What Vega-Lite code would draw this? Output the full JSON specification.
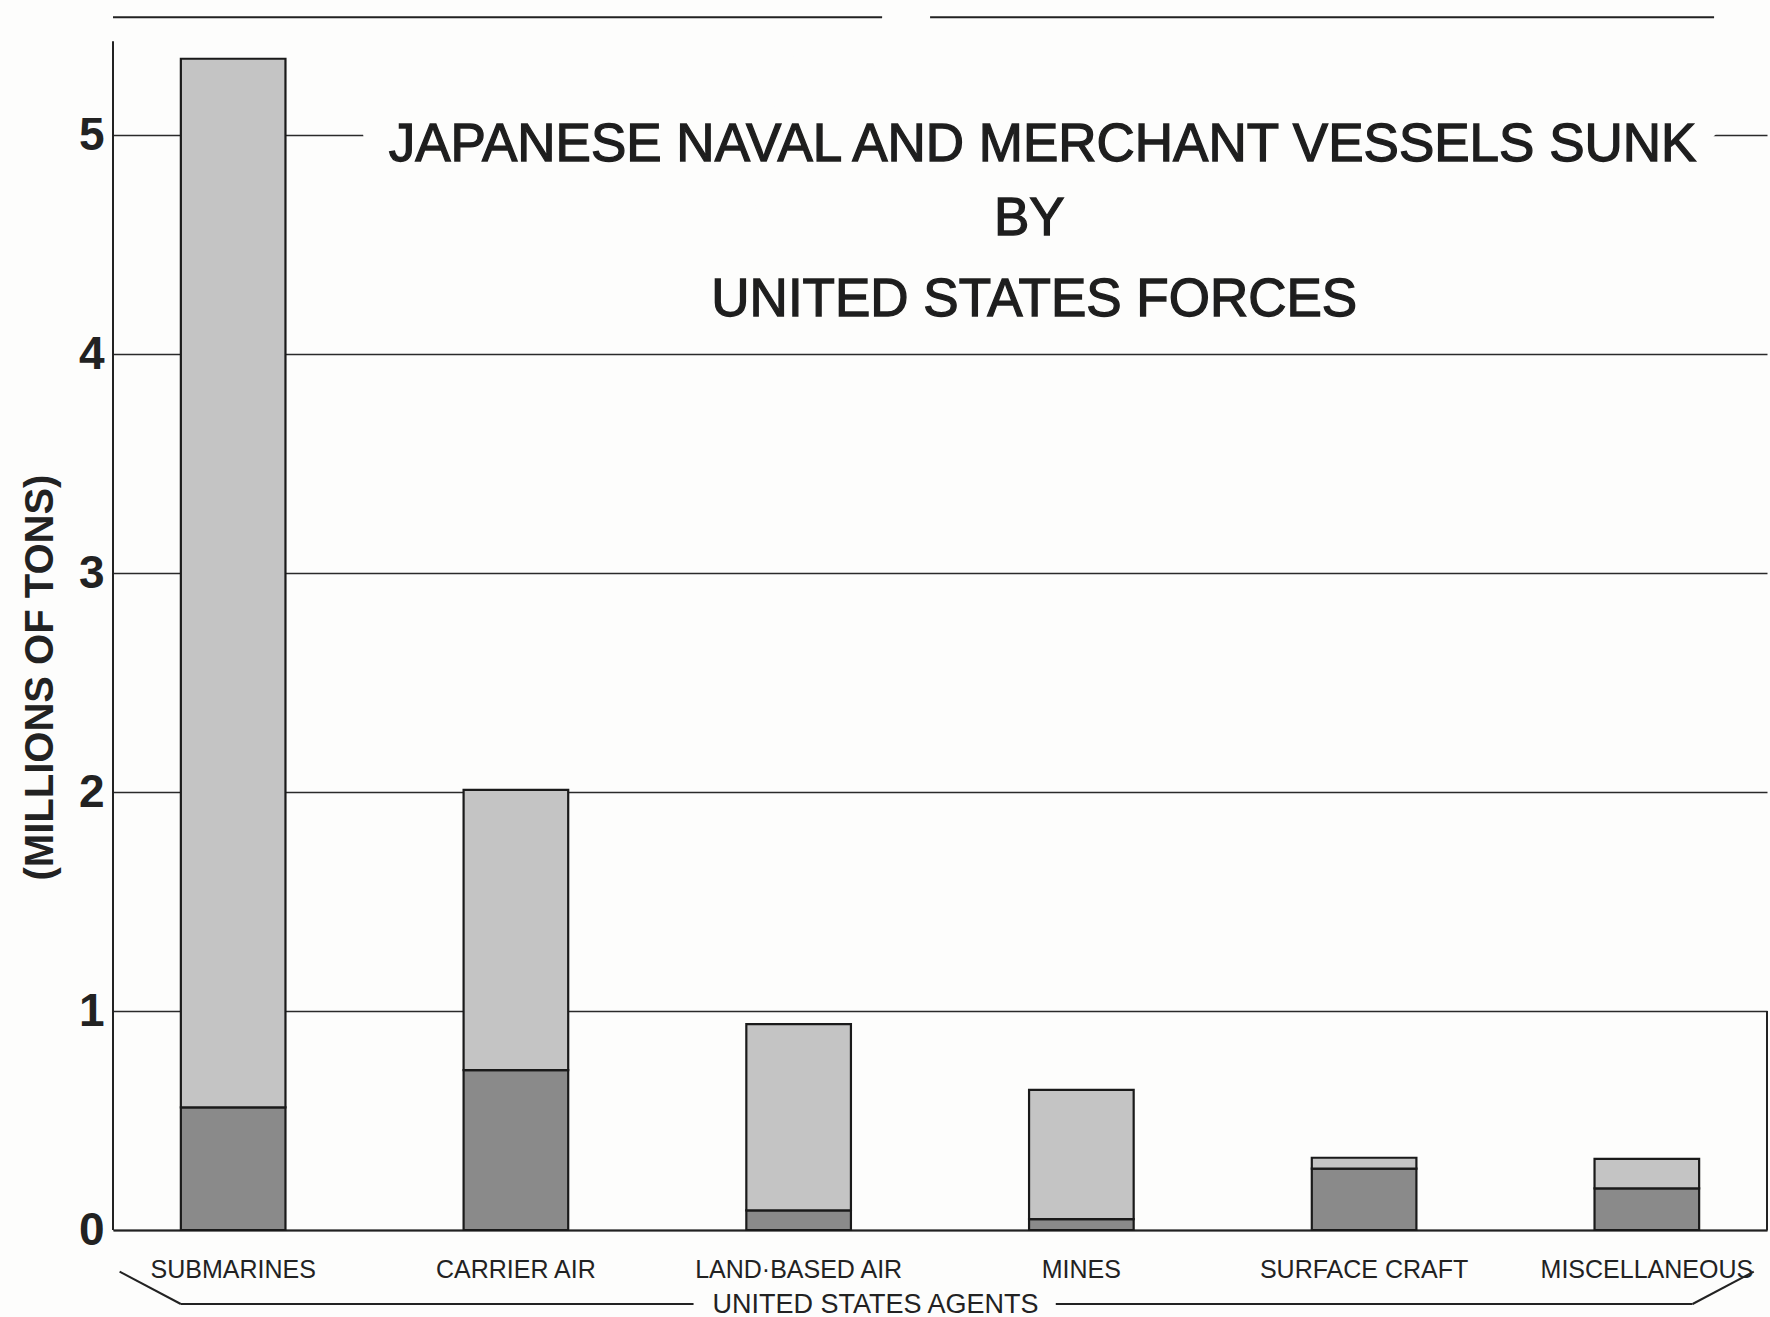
{
  "$schema": "https://vega.github.io/schema/vega-lite/v6.json",
  "width": 1654,
  "height": 1226,
  "autosize": {"type": "none"},
  "padding": {"left": 113, "top": 4, "right": 3, "bottom": 87},
  "background": "#fdfdfc",
  "config": {"view": {"stroke": null}, "font": "Liberation Sans"},
  "data": {
    "values": [
      {"agent": "SUBMARINES", "series": "Naval", "tons": 0.56},
      {"agent": "SUBMARINES", "series": "Merchant", "tons": 4.79},
      {"agent": "CARRIER AIR", "series": "Naval", "tons": 0.73},
      {"agent": "CARRIER AIR", "series": "Merchant", "tons": 1.28},
      {"agent": "LAND·BASED AIR", "series": "Naval", "tons": 0.09},
      {"agent": "LAND·BASED AIR", "series": "Merchant", "tons": 0.85},
      {"agent": "MINES", "series": "Naval", "tons": 0.05},
      {"agent": "MINES", "series": "Merchant", "tons": 0.59},
      {"agent": "SURFACE CRAFT", "series": "Naval", "tons": 0.28},
      {"agent": "SURFACE CRAFT", "series": "Merchant", "tons": 0.05},
      {"agent": "MISCELLANEOUS", "series": "Naval", "tons": 0.19},
      {"agent": "MISCELLANEOUS", "series": "Merchant", "tons": 0.135}
    ]
  },
  "layer": [
    {
      "mark": {"type": "bar", "stroke": "#1a1a1a", "strokeWidth": 2.2},
      "encoding": {
        "x": {
          "field": "agent", "type": "nominal", "sort": null,
          "scale": {"paddingInner": 0.63, "paddingOuter": 0.24},
          "axis": {
            "title": "UNITED STATES AGENTS", "labelAngle": 0, "labelFontSize": 25, "labelColor": "#222",
            "labelPadding": 27, "labelLimit": 0, "ticks": false, "domain": true, "domainColor": "#222", "domainWidth": 2.2,
            "titleFontSize": 27, "titleFontWeight": "normal", "titleColor": "#222",
            "titleX": 762, "titleY": 74, "titleBaseline": "middle", "titleAlign": "center"
          }
        },
        "y": {
          "field": "tons", "type": "quantitative", "stack": "zero",
          "scale": {"domain": [0, 5.6], "nice": false},
          "axis": {
            "values": [0, 1, 2, 3, 4, 5], "format": "d", "grid": true, "gridColor": "#2a2a2a", "gridWidth": 1.6,
            "domain": false, "ticks": false, "labelFontSize": 46, "labelFontWeight": "bold", "labelColor": "#222",
            "labelPadding": 9, "title": "(MILLIONS OF TONS)", "titleFontSize": 40, "titleFontWeight": "bold",
            "titleColor": "#222", "titleX": -73, "titleY": 673, "titleBaseline": "middle", "titleAlign": "center", "titleAngle": -90
          }
        },
        "color": {
          "field": "series", "type": "nominal",
          "scale": {"domain": ["Naval", "Merchant"], "range": ["#8a8a8a", "#c4c4c4"]},
          "legend": null
        },
        "order": {"field": "series", "sort": "descending"}
      }
    },
    {
      "data": {"values": [{}]},
      "mark": {"type": "rule", "stroke": "#222", "strokeWidth": 2},
      "encoding": {
        "x": {"datum": 0, "type": "quantitative", "scale": {"domain": [0, 1], "nice": false}, "axis": null},
        "x2": {"datum": 0.465},
        "y": {"datum": 5.54}
      }
    },
    {
      "data": {"values": [{}]},
      "mark": {"type": "rule", "stroke": "#222", "strokeWidth": 2},
      "encoding": {
        "x": {"datum": 0.494, "type": "quantitative", "scale": {"domain": [0, 1], "nice": false}, "axis": null},
        "x2": {"datum": 0.968},
        "y": {"datum": 5.54}
      }
    },
    {
      "data": {"values": [{}]},
      "mark": {"type": "rule", "stroke": "#222", "strokeWidth": 2},
      "encoding": {
        "x": {"datum": 0, "type": "quantitative", "scale": {"domain": [0, 1], "nice": false}, "axis": null},
        "y": {"datum": 0},
        "y2": {"datum": 5.43}
      }
    },
    {
      "data": {"values": [{}]},
      "mark": {"type": "rule", "stroke": "#222", "strokeWidth": 2},
      "encoding": {
        "x": {"datum": 1, "type": "quantitative", "scale": {"domain": [0, 1], "nice": false}, "axis": null},
        "y": {"datum": 0},
        "y2": {"datum": 1.0}
      }
    },
    {
      "data": {"values": [{}]},
      "mark": {"type": "rule", "stroke": "#222", "strokeWidth": 2},
      "encoding": {
        "x": {"datum": 0.041, "type": "quantitative", "scale": {"domain": [0, 1], "nice": false}, "axis": null},
        "x2": {"datum": 0.351},
        "y": {"datum": -0.338}
      }
    },
    {
      "data": {"values": [{}]},
      "mark": {"type": "rule", "stroke": "#222", "strokeWidth": 2},
      "encoding": {
        "x": {"datum": 0.041, "type": "quantitative", "scale": {"domain": [0, 1], "nice": false}, "axis": null},
        "x2": {"datum": 0.004},
        "y": {"datum": -0.338},
        "y2": {"datum": -0.19}
      }
    },
    {
      "data": {"values": [{}]},
      "mark": {"type": "rule", "stroke": "#222", "strokeWidth": 2},
      "encoding": {
        "x": {"datum": 0.57, "type": "quantitative", "scale": {"domain": [0, 1], "nice": false}, "axis": null},
        "x2": {"datum": 0.955},
        "y": {"datum": -0.338}
      }
    },
    {
      "data": {"values": [{}]},
      "mark": {"type": "rule", "stroke": "#222", "strokeWidth": 2},
      "encoding": {
        "x": {"datum": 0.955, "type": "quantitative", "scale": {"domain": [0, 1], "nice": false}, "axis": null},
        "x2": {"datum": 0.992},
        "y": {"datum": -0.338},
        "y2": {"datum": -0.19}
      }
    },
    {
      "data": {"values": [{}]},
      "mark": {"type": "text", "text": "JAPANESE NAVAL AND MERCHANT VESSELS SUNK", "fontSize": 53, "align": "center", "baseline": "alphabetic", "fill": "#fdfdfc", "stroke": "#fdfdfc", "strokeWidth": 46},
      "encoding": {
        "x": {"datum": 0.562, "type": "quantitative", "scale": {"domain": [0, 1], "nice": false}, "axis": null},
        "y": {"datum": 4.881}
      }
    },
    {
      "data": {"values": [{}]},
      "mark": {"type": "text", "text": "JAPANESE NAVAL AND MERCHANT VESSELS SUNK", "fontSize": 53, "align": "center", "baseline": "alphabetic", "fill": "#1e1e1e", "stroke": "#1e1e1e", "strokeWidth": 1.3},
      "encoding": {
        "x": {"datum": 0.562, "type": "quantitative", "scale": {"domain": [0, 1], "nice": false}, "axis": null},
        "y": {"datum": 4.881}
      }
    },
    {
      "data": {"values": [{}]},
      "mark": {"type": "text", "text": "BY", "fontSize": 53, "align": "center", "baseline": "alphabetic", "fill": "#1e1e1e", "stroke": "#1e1e1e", "strokeWidth": 1.3},
      "encoding": {
        "x": {"datum": 0.554, "type": "quantitative", "scale": {"domain": [0, 1], "nice": false}, "axis": null},
        "y": {"datum": 4.543}
      }
    },
    {
      "data": {"values": [{}]},
      "mark": {"type": "text", "text": "UNITED STATES FORCES", "fontSize": 53, "align": "center", "baseline": "alphabetic", "fill": "#1e1e1e", "stroke": "#1e1e1e", "strokeWidth": 1.3},
      "encoding": {
        "x": {"datum": 0.557, "type": "quantitative", "scale": {"domain": [0, 1], "nice": false}, "axis": null},
        "y": {"datum": 4.174}
      }
    }
  ],
  "resolve": {"scale": {"x": "independent"}, "axis": {"x": "independent"}}
}
